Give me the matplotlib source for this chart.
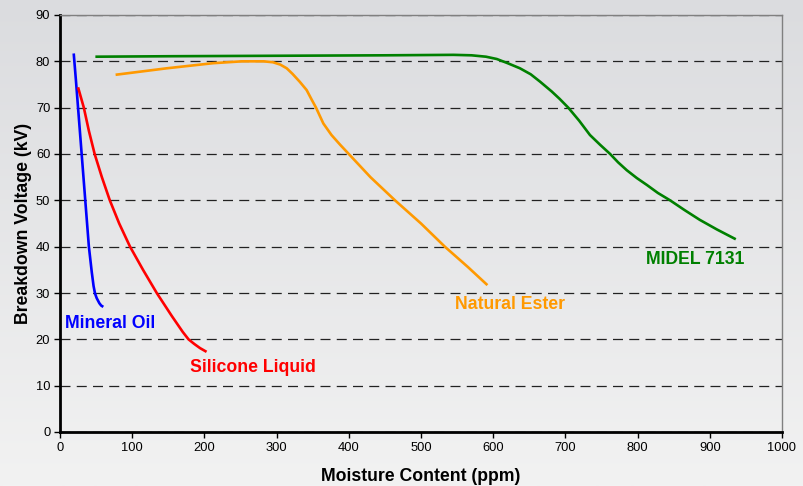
import numpy as np
import matplotlib
matplotlib.use("Agg")
import matplotlib.pyplot as plt
from matplotlib.colors import LinearSegmentedColormap

plt.rcParams['font.family'] = ['Liberation Sans', 'DejaVu Sans']

# ---- data ----
mineral_x = [19, 22, 25, 30, 35, 40, 44, 46.5, 48.5, 50.8, 54.5, 57, 60]
mineral_y = [81.7, 76, 70, 60, 50, 40, 34.5, 31.5, 29.9, 28.9, 27.8, 27.3, 27]

silicone_x = [25, 33, 40, 48, 58, 69, 82, 97, 115, 134, 155, 170, 178,
              186, 194, 203]
silicone_y = [74.4, 70, 65, 60, 55, 50, 45, 40, 35, 30, 25, 21.6, 20,
              19.0, 18.1, 17.3]

ester_x = [77, 148, 212, 252, 282, 295, 305, 314, 322, 332, 341.6, 348,
           354.6, 364.7, 376, 388, 397, 430, 464, 500, 533, 565, 592]
ester_y = [77.1, 78.5, 79.6, 80.0, 80.0, 79.8, 79.3, 78.5, 77.3, 75.6,
           73.8, 71.9, 70, 66.6, 64.1, 62, 60.5, 55, 50, 45, 40, 35.6, 31.7]

midel_x = [49, 150, 300, 450, 545, 570, 590, 605, 620, 637, 652, 665, 681,
           692, 704, 719, 734, 748, 762, 773, 785, 799, 813, 828, 845, 865,
           886, 910, 936]
midel_y = [81.0, 81.1, 81.2, 81.3, 81.4, 81.3, 81.0, 80.5, 79.6, 78.5,
           77.2, 75.6, 73.5, 71.9, 70, 67.2, 64.1, 62, 60, 58.2, 56.5, 54.8,
           53.3, 51.6, 50, 47.9, 45.8, 43.7, 41.6]

series_names = ["Mineral Oil", "Silicone Liquid", "Natural Ester", "MIDEL 7131"]
series_colors = ["#0000ff", "#ff0000", "#ff9900", "#008000"]
label_pos = [(7, 23.5), (180, 14.0), (547, 27.6), (812, 37.3)]

x_ticks = [0, 100, 200, 300, 400, 500, 600, 700, 800, 900, 1000]
y_ticks = [0, 10, 20, 30, 40, 50, 60, 70, 80, 90]

# ---- figure ----
fig = plt.figure(figsize=(8.04, 4.86), dpi=100)

# gradient background
bg = fig.add_axes([0, 0, 1, 1], zorder=0)
cmap = LinearSegmentedColormap.from_list("bg", ["#dbdcdf", "#f2f2f2"])
grad = np.linspace(0, 1, 256).reshape(-1, 1)
bg.imshow(grad, aspect='auto', cmap=cmap, extent=[0, 1, 0, 1], origin='upper')
bg.axis('off')

ax = fig.add_axes([60 / 804, 1 - 432 / 486, (782 - 60) / 804, (432 - 15) / 486], zorder=1)
ax.set_facecolor('none')

series = [(mineral_x, mineral_y), (silicone_x, silicone_y),
          (ester_x, ester_y), (midel_x, midel_y)]
for (xs, ys), name, col, (lx, ly) in zip(series, series_names, series_colors, label_pos):
    ax.plot(xs, ys, color=col, linewidth=1.9, solid_capstyle='butt',
            solid_joinstyle='round', zorder=3)
    ax.text(lx, ly, name, color=col, fontsize=12.7, fontweight='bold',
            ha='left', va='center', zorder=4)

ax.set_xlim(0, 1000)
ax.set_ylim(0, 90)
ax.set_xticks(x_ticks)
ax.set_yticks(y_ticks)
ax.set_xticklabels([str(t) for t in x_ticks], fontsize=9.3)
ax.set_yticklabels([str(t) for t in y_ticks], fontsize=9.3)
ax.tick_params(axis='both', direction='out', length=4, width=1, color='black', pad=3)

ax.yaxis.grid(True, linestyle=(0, (8, 5)), color='#222222', linewidth=0.9)
ax.set_axisbelow(True)

for s in ['left', 'bottom']:
    ax.spines[s].set_color('black')
    ax.spines[s].set_linewidth(2)
for s in ['top', 'right']:
    ax.spines[s].set_color('#808080')
    ax.spines[s].set_linewidth(1)

ax.set_xlabel("Moisture Content (ppm)", fontsize=12.7, fontweight='bold', labelpad=10)
ax.set_ylabel("Breakdown Voltage (kV)", fontsize=12.7, fontweight='bold', labelpad=3)

fig.savefig("out.png", dpi=100)
